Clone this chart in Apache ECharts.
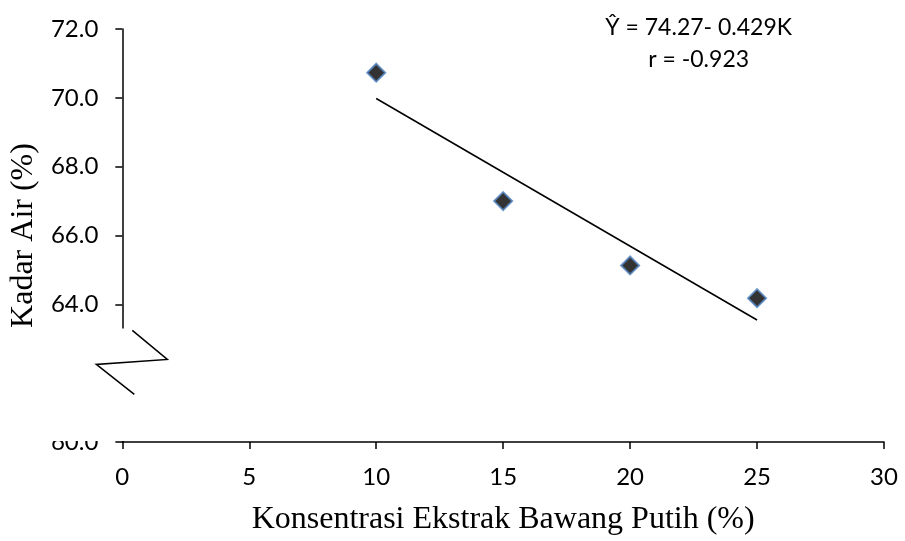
<!DOCTYPE html>
<html><head><meta charset="utf-8">
<script src="https://cdn.jsdelivr.net/npm/echarts@6/dist/echarts.min.js"></script>
<style>html,body{margin:0;padding:0;background:#fff}#c{width:905px;height:541px}</style>
</head><body><div id="c"></div>
<script>
// Data
const concentrations = [10, 15, 20, 25];
const moisture = [70.73, 67.0, 65.13, 64.18];
const intercept = 74.27;
const slope = -0.429;
const trendX = [10, 25];
const yTicks = [60, 62, 64, 66, 68, 70, 72];
const xTicks = [0, 5, 10, 15, 20, 25, 30];
const equationText = 'Ŷ = 74.27- 0.429K';
const rText = 'r = -0.923';

const chart = echarts.init(document.getElementById('c'));
const tickFont = 'Lato';
const option = {
  animation: false,
  backgroundColor: '#fff',
  grid: {left: 121, right: 21, top: 29, bottom: 96},
  xAxis: {
    type: 'value', min: xTicks[0], max: xTicks[xTicks.length-1], interval: 5,
    name: 'Konsentrasi Ekstrak Bawang Putih (%)', nameLocation: 'middle', nameGap: 62,
    nameTextStyle: {fontFamily: 'Liberation Serif', fontSize: 32, color: '#000'},
    axisLine: {show: true, lineStyle: {color: '#000', width: 1.5}},
    axisTick: {show: true, length: 7, lineStyle: {color: '#000', width: 1.5}},
    axisLabel: {fontFamily: tickFont, fontSize: 24, color: '#000', margin: 23},
    splitLine: {show: false}
  },
  yAxis: {
    type: 'value', min: yTicks[0], max: yTicks[yTicks.length-1], interval: 2,
    name: 'Kadar Air (%)', nameLocation: 'middle', nameGap: 80, nameRotate: 90,
    nameTextStyle: {fontFamily: 'Liberation Serif', fontSize: 32, color: '#000'},
    axisLine: {show: true, lineStyle: {color: '#000', width: 1.5}},
    axisTick: {show: true, length: 7, lineStyle: {color: '#000', width: 1.5}},
    axisLabel: {fontFamily: tickFont, fontSize: 24, color: '#000', margin: 24,
      formatter: v => v.toFixed(1)},
    splitLine: {show: false}
  },
  series: [
    {
      type: 'line', data: trendX.map(x => [x, intercept + slope * x]),
      symbol: 'none', lineStyle: {color: '#000', width: 1.5}, z: 2
    },
    {
      type: 'scatter', data: concentrations.map((x, i) => [x, moisture[i]]),
      symbol: 'diamond', symbolSize: [18, 18],
      itemStyle: {color: '#000', borderColor: '#4f81bd', borderWidth: 2}, z: 3
    }
  ]
};
chart.setOption(option);

// Axis break decoration and equation
const pBreakTop = chart.convertToPixel({gridIndex: 0}, [0, 63.3]);
const pBottom = chart.convertToPixel({gridIndex: 0}, [0, 60]);
const ax = pBottom[0], by = pBottom[1];
const eqPos = chart.convertToPixel({gridIndex: 0}, [22.7, 72]);
chart.setOption({
  graphic: [
    {type: 'rect', z: 100, shape: {x: ax - 80, y: pBreakTop[1], width: 83, height: by - pBreakTop[1] - 1},
     style: {fill: '#fff'}},
    {type: 'polyline', z: 101, shape: {points: [[ax + 10, pBreakTop[1] + 2], [ax + 45, pBreakTop[1] + 31], [ax - 26, pBreakTop[1] + 36], [ax + 12, pBreakTop[1] + 66]]},
     style: {stroke: '#000', lineWidth: 1.5, fill: null}},
    {type: 'text', z: 101, x: eqPos[0], y: eqPos[1] - 1,
     style: {text: equationText, fontFamily: tickFont, fontSize: 23, fill: '#000', align: 'center', verticalAlign: 'middle'}},
    {type: 'text', z: 101, x: eqPos[0], y: eqPos[1] + 31,
     style: {text: rText, fontFamily: tickFont, fontSize: 23, fill: '#000', align: 'center', verticalAlign: 'middle'}}
  ]
});
</script></body></html>
